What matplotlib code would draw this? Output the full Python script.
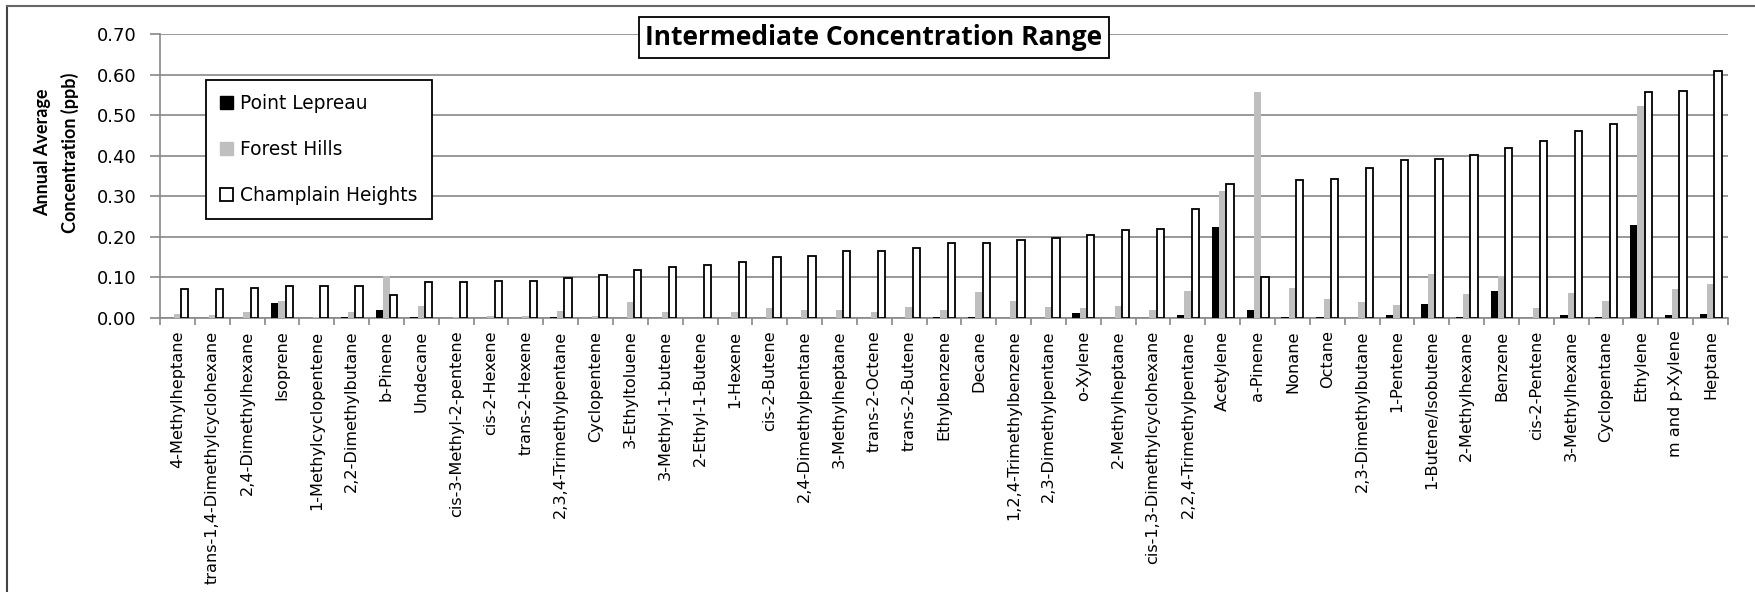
import matplotlib
matplotlib.use("Agg")
import matplotlib.pyplot as plt
import numpy as np
from matplotlib.lines import Line2D
from matplotlib.patches import Patch

categories = ["4-Methylheptane", "trans-1,4-Dimethylcyclohexane", "2,4-Dimethylhexane", "Isoprene",
              "1-Methylcyclopentene", "2,2-Dimethylbutane", "b-Pinene", "Undecane",
              "cis-3-Methyl-2-pentene", "cis-2-Hexene", "trans-2-Hexene", "2,3,4-Trimethylpentane",
              "Cyclopentene", "3-Ethyltoluene", "3-Methyl-1-butene", "2-Ethyl-1-Butene",
              "1-Hexene", "cis-2-Butene", "2,4-Dimethylpentane", "3-Methylheptane",
              "trans-2-Octene", "trans-2-Butene", "Ethylbenzene", "Decane",
              "1,2,4-Trimethylbenzene", "2,3-Dimethylpentane", "o-Xylene", "2-Methylheptane",
              "cis-1,3-Dimethylcyclohexane", "2,2,4-Trimethylpentane", "Acetylene", "a-Pinene",
              "Nonane", "Octane", "2,3-Dimethylbutane", "1-Pentene",
              "1-Butene/Isobutene", "2-Methylhexane", "Benzene", "cis-2-Pentene",
              "3-Methylhexane", "Cyclopentane", "Ethylene", "m and p-Xylene", "Heptane"]

point_lepreau = [0.001, 0.000, 0.000, 0.037, 0.000, 0.002, 0.020, 0.002,
                 0.000, 0.000, 0.000, 0.002, 0.000, 0.001, 0.000, 0.000,
                 0.000, 0.000, 0.001, 0.000, 0.000, 0.000, 0.002, 0.002,
                 0.001, 0.001, 0.012, 0.001, 0.000, 0.008, 0.225, 0.020,
                 0.002, 0.003, 0.001, 0.008, 0.034, 0.003, 0.066, 0.000,
                 0.007, 0.002, 0.228, 0.008, 0.010]

forest_hills = [0.011, 0.008, 0.014, 0.043, 0.002, 0.014, 0.104, 0.029,
                0.003, 0.004, 0.005, 0.018, 0.004, 0.040, 0.016, 0.001,
                0.016, 0.024, 0.019, 0.020, 0.016, 0.028, 0.020, 0.065,
                0.043, 0.028, 0.025, 0.029, 0.020, 0.066, 0.314, 0.557,
                0.074, 0.047, 0.039, 0.033, 0.109, 0.060, 0.104, 0.025,
                0.062, 0.043, 0.523, 0.072, 0.085]

champlain_heights = [0.071, 0.071, 0.075, 0.078, 0.078, 0.080, 0.057, 0.089,
                     0.089, 0.090, 0.090, 0.099, 0.107, 0.118, 0.125, 0.130,
                     0.137, 0.150, 0.153, 0.166, 0.166, 0.172, 0.184, 0.186,
                     0.193, 0.197, 0.204, 0.217, 0.219, 0.269, 0.330, 0.100,
                     0.340, 0.342, 0.370, 0.389, 0.392, 0.401, 0.420, 0.437,
                     0.462, 0.479, 0.556, 0.560, 0.610]

series_names = ["Point Lepreau", "Forest Hills", "Champlain Heights"]
y_ticks = [0.0, 0.1, 0.2, 0.3, 0.4, 0.5, 0.6, 0.7]

W, H = 1756, 592
fig = plt.figure(figsize=(W / 100, H / 100), dpi=100)
ax = fig.add_axes([160 / W, 1 - 318 / H, (1728 - 160) / W, (318 - 34) / H])

n = len(categories)
x = np.arange(n)
bw = 0.21
grid_c = "#888888"

ax.bar(x - bw, point_lepreau, bw, color="black", zorder=3)
ax.bar(x, forest_hills, bw, color="#BFBFBF", zorder=3)
ax.bar(x + bw, champlain_heights, bw, color="white", edgecolor="black", linewidth=1.3, zorder=4)

ax.set_xlim(-0.5, n - 0.5)
ax.set_ylim(0, 0.7)
ax.set_yticks(y_ticks)
ax.set_yticklabels([f"{v:.2f}" for v in y_ticks], fontsize=13, family="DejaVu Sans")
ax.yaxis.grid(True, color=grid_c, linewidth=1.2, zorder=0)
ax.set_axisbelow(True)

ax.set_xticks(x)
ax.set_xticklabels(categories, rotation=90, fontsize=11.6, family="DejaVu Sans")
ax.set_xticks(np.arange(n + 1) - 0.5, minor=True)
ax.tick_params(axis="x", which="major", length=0, pad=9)
ax.tick_params(axis="x", which="minor", length=5, color=grid_c, width=1.2)
ax.tick_params(axis="y", which="major", length=7, color=grid_c, width=1.2, pad=10)

for s in ["top", "right"]:
    ax.spines[s].set_visible(False)
for s in ["left", "bottom"]:
    ax.spines[s].set_color(grid_c)
    ax.spines[s].set_linewidth(1.2)

# Title box
fig.text(874 / W, 1 - 37.5 / H, "Intermediate Concentration Range", ha="center", va="center",
         fontsize=19, fontweight="bold", family="Open Sans",
         bbox=dict(boxstyle="square,pad=0.25", facecolor="white", edgecolor="black", linewidth=1.3),
         zorder=10)

# Y label
fig.text(43 / W, 1 - 152 / H, "Annual Average", rotation=90, ha="center", va="center",
         fontsize=13, fontweight="bold", family="Lato")
fig.text(70 / W, 1 - 153 / H, "Concentration (ppb)", rotation=90, ha="center", va="center",
         fontsize=13, fontweight="bold", family="Lato")

# Legend
handles = [Patch(facecolor="black", edgecolor="black"),
           Patch(facecolor="#BFBFBF", edgecolor="#BFBFBF"),
           Patch(facecolor="white", edgecolor="black", linewidth=1.3)]
leg = ax.legend(handles, series_names, loc="upper left",
                bbox_to_anchor=(206 / W, 1 - 80 / H), bbox_transform=fig.transFigure,
                prop={"family": "DejaVu Sans", "size": 13.4},
                frameon=True, fancybox=False, framealpha=1, edgecolor="black",
                handlelength=0.7, handleheight=0.7, handletextpad=0.4,
                labelspacing=1.45, borderpad=0.75, borderaxespad=0)
leg.get_frame().set_linewidth(1.3)

# Figure border (left and top)
fig.add_artist(Line2D([7 / W, 7 / W], [0, 1 - 6 / H], transform=fig.transFigure,
                      color="#444444", linewidth=1.5))
fig.add_artist(Line2D([7 / W, 1], [1 - 6 / H, 1 - 6 / H], transform=fig.transFigure,
                      color="#666666", linewidth=1.5))

fig.savefig("out.png", dpi=100)
